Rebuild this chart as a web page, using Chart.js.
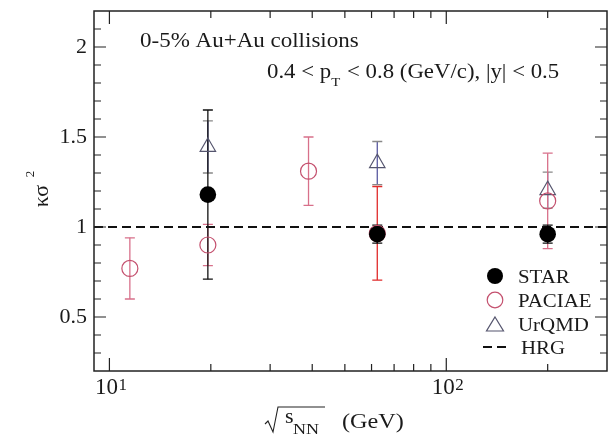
<!DOCTYPE html>
<html>
<head>
<meta charset="utf-8">
<script src="https://cdn.jsdelivr.net/npm/chart.js@4/dist/chart.umd.min.js"></script>
<style>
  html, body { margin: 0; padding: 0; background: #fff; }
  #wrap { width: 608px; height: 436px; }
</style>
</head>
<body>
<div id="wrap"><canvas id="c" width="608" height="436"></canvas></div>
<script>
// data
const starEnergy = [19.6, 62.4, 200];
const starValue = [1.18, 0.96, 0.96];
const starError = [0.47, 0.05, 0.05];

const paciaeEnergy = [11.5, 19.6, 39, 62.4, 200];
const paciaeValue = [0.77, 0.90, 1.31, 0.965, 1.145];
const paciaeError = [0.17, 0.115, 0.19, 0.26, 0.265];

const urqmdEnergy = [19.6, 62.4, 200];
const urqmdValue = [1.445, 1.355, 1.205];
const urqmdError = [0.145, 0.12, 0.1];

const hrgValue = 1;
const xRange = [9, 300];
const yRange = [0.2, 2.2];
const xMajorTicks = [10, 100];
const xTickExponents = ["1", "2"];
const xMinorTicks = [20, 30, 40, 50, 60, 70, 80, 90, 200];
const yMajorTicks = [0.5, 1, 1.5, 2];

const serif = '"Liberation Serif", "DejaVu Serif", serif';
const pink = "#c4506e";

const toPoints = (xs, ys) => xs.map((x, i) => ({ x: x, y: ys[i] }));

// draws pieces of text one after another, a bit wider than the font (the original is stretched)
function textRun(ctx, parts, x, y, sx) {
  ctx.save();
  ctx.translate(x, y);
  ctx.scale(sx, 1);
  let cx = 0;
  parts.forEach(p => {
    ctx.font = p.size + "px " + serif;
    ctx.fillText(p.t, cx, p.dy || 0);
    cx += ctx.measureText(p.t).width + (p.gap || 0);
  });
  ctx.restore();
}

// no extra room for half tick labels, the frame goes to the canvas edge
function noLabelPadding(s) {
  s.paddingLeft = 0;
  s.paddingRight = 0;
  s.paddingTop = 0;
  s.paddingBottom = 0;
}

// error bars, drawn under the markers
const errorBars = {
  id: "errorBars",
  beforeDatasetsDraw(chart) {
    const ctx = chart.ctx;
    const y = chart.scales.y;
    chart.data.datasets.forEach((ds, di) => {
      if (!ds.errors) return;
      const meta = chart.getDatasetMeta(di);
      meta.data.forEach((el, i) => {
        const v = ds.data[i].y;
        const e = ds.errors[i];
        const top = y.getPixelForValue(v + e);
        const bot = y.getPixelForValue(v - e);
        const col = Array.isArray(ds.barColor) ? ds.barColor[i] : ds.barColor;
        ctx.save();
        ctx.strokeStyle = col;
        ctx.lineWidth = 1.3;
        ctx.beginPath();
        ctx.moveTo(el.x, top);
        ctx.lineTo(el.x, bot);
        ctx.stroke();
        ctx.strokeStyle = ds.capColor || col;
        ctx.beginPath();
        ctx.moveTo(el.x - 5, top);
        ctx.lineTo(el.x + 5, top);
        ctx.moveTo(el.x - 5, bot);
        ctx.lineTo(el.x + 5, bot);
        ctx.stroke();
        ctx.restore();
      });
    });
  }
};

// frame, inward ticks, titles, annotations and legend
const decorations = {
  id: "decorations",
  afterDraw(chart) {
    const ctx = chart.ctx;
    const a = chart.chartArea;
    const xs = chart.scales.x;
    const ys = chart.scales.y;
    ctx.save();
    ctx.strokeStyle = "#222";
    ctx.lineWidth = 1.5;
    ctx.strokeRect(a.left, a.top, a.right - a.left, a.bottom - a.top);

    ctx.lineWidth = 1.2;
    ctx.beginPath();
    const xt = (v, len) => {
      const px = xs.getPixelForValue(v);
      ctx.moveTo(px, a.bottom); ctx.lineTo(px, a.bottom - len);
      ctx.moveTo(px, a.top); ctx.lineTo(px, a.top + len);
    };
    xMajorTicks.forEach(v => xt(v, 13));
    xMinorTicks.forEach(v => xt(v, 7));
    const yt = (v, len) => {
      const py = ys.getPixelForValue(v);
      ctx.moveTo(a.left, py); ctx.lineTo(a.left + len, py);
      ctx.moveTo(a.right, py); ctx.lineTo(a.right - len, py);
    };
    for (let k = 3; k <= 21; k++) {
      const v = k / 10;
      yt(v, yMajorTicks.some(m => Math.abs(m - v) < 1e-6) ? 12 : 7);
    }
    ctx.stroke();

    ctx.fillStyle = "#1a1a1a";
    ctx.textBaseline = "alphabetic";
    ctx.textAlign = "left";
    // x tick exponents
    ctx.font = "17px " + serif;
    xMajorTicks.forEach((v, i) => {
      ctx.fillText(xTickExponents[i], xs.getPixelForValue(v) + 9, 390);
    });

    // x title: sqrt(s_NN) (GeV)
    ctx.beginPath();
    ctx.lineWidth = 1.1;
    ctx.moveTo(265, 424); ctx.lineTo(268, 421); ctx.lineTo(273, 432);
    ctx.lineTo(278, 407); ctx.lineTo(325, 407);
    ctx.stroke();
    textRun(ctx, [{ t: "s", size: 20 }], 285, 423, 1.1);
    textRun(ctx, [{ t: "NN", size: 15 }], 293, 434, 1.2);
    textRun(ctx, [{ t: "(GeV)", size: 22 }], 342, 428, 1.1);

    // y title
    ctx.save();
    ctx.translate(48, 196);
    ctx.rotate(-Math.PI / 2);
    ctx.font = "22px " + serif;
    ctx.textAlign = "center";
    ctx.fillText("\u03ba\u03c3", 0, 0);
    ctx.font = "13px " + serif;
    ctx.fillText("2", 22, -14);
    ctx.restore();

    // annotations
    textRun(ctx, [{ t: "0-5% Au+Au collisions", size: 20 }], 140, 47, 1.15);
    textRun(ctx, [
      { t: "0.4 < p", size: 20 },
      { t: "T", size: 13, dy: 8, gap: 1 },
      { t: " < 0.8 (GeV/c), |y| < 0.5", size: 20 }
    ], 267, 78, 1.14);

    // legend
    const lx = 495;
    ctx.fillStyle = "#000";
    ctx.beginPath(); ctx.arc(lx, 276, 8, 0, Math.PI * 2); ctx.fill();
    ctx.strokeStyle = pink; ctx.lineWidth = 1.2;
    ctx.beginPath(); ctx.arc(lx, 300, 7.8, 0, Math.PI * 2); ctx.stroke();
    ctx.strokeStyle = "#55556e";
    ctx.beginPath();
    ctx.moveTo(lx, 317); ctx.lineTo(lx + 8.5, 331); ctx.lineTo(lx - 8.5, 331); ctx.closePath();
    ctx.stroke();
    ctx.strokeStyle = "#111"; ctx.lineWidth = 2;
    ctx.setLineDash([9, 5]);
    ctx.beginPath(); ctx.moveTo(lx - 12, 347); ctx.lineTo(lx + 15, 347); ctx.stroke();
    ctx.setLineDash([]);
    ctx.fillStyle = "#1a1a1a";
    textRun(ctx, [{ t: "STAR", size: 19 }], 518, 283, 1.1);
    textRun(ctx, [{ t: "PACIAE", size: 19 }], 518, 307, 1.1);
    textRun(ctx, [{ t: "UrQMD", size: 19 }], 518, 331, 1.1);
    textRun(ctx, [{ t: "HRG", size: 19 }], 521, 354, 1.1);
    ctx.restore();
  }
};

new Chart(document.getElementById("c"), {
  type: "scatter",
  data: {
    datasets: [
      {
        label: "HRG",
        type: "line",
        data: [{ x: xRange[0], y: hrgValue }, { x: xRange[1], y: hrgValue }],
        borderColor: "#111",
        borderWidth: 2,
        borderDash: [9, 5],
        pointRadius: 0,
        order: 4
      },
      {
        label: "UrQMD",
        data: toPoints(urqmdEnergy, urqmdValue),
        errors: urqmdError,
        barColor: "#5a5aa0",
        capColor: "#888",
        pointStyle: "triangle",
        pointRadius: 9,
        backgroundColor: "rgba(0,0,0,0)",
        borderColor: "#55556e",
        borderWidth: 1.1,
        order: 3
      },
      {
        label: "PACIAE",
        data: toPoints(paciaeEnergy, paciaeValue),
        errors: paciaeError,
        barColor: ["#d8708a", "#d8708a", "#d8708a", "#e02a2a", "#d8708a"],
        pointStyle: "circle",
        pointRadius: 8,
        backgroundColor: "rgba(0,0,0,0)",
        borderColor: pink,
        borderWidth: 1.2,
        order: 2
      },
      {
        label: "STAR",
        data: toPoints(starEnergy, starValue),
        errors: starError,
        barColor: "#111",
        pointStyle: "circle",
        pointRadius: 8.3,
        backgroundColor: "#000",
        borderColor: "#000",
        borderWidth: 0,
        order: 1
      }
    ]
  },
  options: {
    responsive: false,
    animation: false,
    layout: { autoPadding: false, padding: { top: 11, right: 1, left: 0, bottom: 0 } },
    plugins: { legend: { display: false }, tooltip: { enabled: false } },
    scales: {
      x: {
        type: "logarithmic",
        min: xRange[0],
        max: xRange[1],
        afterBuildTicks: (s) => { s.ticks = xMajorTicks.map(v => ({ value: v })); },
        afterFit: (s) => { s.height = 65; noLabelPadding(s); },
        grid: { display: false, drawTicks: false },
        border: { display: false },
        ticks: {
          autoSkip: false,
          maxRotation: 0,
          padding: 3,
          labelOffset: -3,
          color: "#1a1a1a",
          font: { family: serif, size: 23 },
          callback: (v) => (xMajorTicks.includes(v) ? "10" : "")
        }
      },
      y: {
        min: yRange[0],
        max: yRange[1],
        afterBuildTicks: (s) => { s.ticks = yMajorTicks.map(v => ({ value: v })); },
        afterFit: (s) => { s.width = 94; noLabelPadding(s); },
        grid: { display: false, drawTicks: false },
        border: { display: false },
        ticks: {
          padding: 7,
          color: "#1a1a1a",
          font: { family: serif, size: 22 },
          callback: (v) => String(v)
        }
      }
    }
  },
  plugins: [errorBars, decorations]
});
</script>
</body>
</html>
